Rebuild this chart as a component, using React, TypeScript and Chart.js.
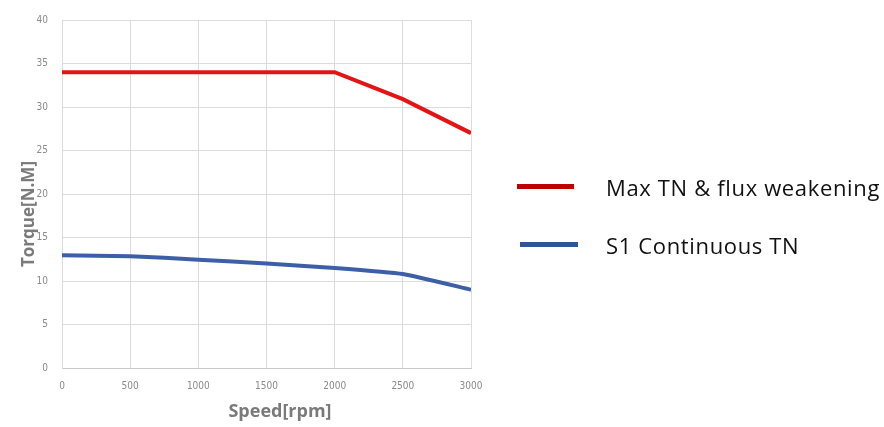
import React, { useEffect, useRef } from "react";
import { Chart, registerables } from "chart.js";

Chart.register(...registerables);

const speeds = [0, 500, 1000, 1500, 2000, 2500, 3000];
const maxTorque = [34, 34, 34, 34, 34, 30.9, 27.0];
const contTorque = [12.95, 12.85, 12.45, 12.0, 11.5, 10.8, 9.0];
const seriesNames = ["Max TN & flux weakening", "S1 Continuous TN"];
const xTitle = "Speed[rpm]";
const yTitle = "Torque[N.M]";
const lineColors = ["#e31414", "#3d5fa8"];
const legendColors = ["#c00000", "#2f5597"];

const tickFont = { family: "'Liberation Sans Narrow', 'DejaVu Sans Condensed', sans-serif", size: 10 };

export default function App() {
  const ref = useRef<HTMLCanvasElement | null>(null);
  useEffect(() => {
    if (!ref.current) return;
    const chart = new Chart(ref.current, {
      type: "line",
      data: {
        datasets: [
          {
            label: seriesNames[0],
            data: speeds.map((s, i) => ({ x: s, y: maxTorque[i] })),
            borderColor: lineColors[0],
            borderWidth: 4,
            pointRadius: 0,
            tension: 0,
          },
          {
            label: seriesNames[1],
            data: speeds.map((s, i) => ({ x: s, y: contTorque[i] })),
            borderColor: lineColors[1],
            borderWidth: 4,
            pointRadius: 0,
            tension: 0.15,
          },
        ],
      },
      options: {
        animation: false,
        responsive: false,
        layout: { padding: { top: 9, right: 413, left: 18, bottom: 23 } },
        plugins: { legend: { display: false }, tooltip: { enabled: false } },
        scales: {
          x: {
            type: "linear",
            min: 0,
            max: 3000,
            ticks: { stepSize: 500, padding: 12, color: "#8a8a8a", font: tickFont, callback: (v: any) => String(v) },
            grid: { color: "#dcdcdc", drawTicks: false },
            border: { color: "#c8c8c8" },
          },
          y: {
            min: 0,
            max: 40,
            afterFit: (scale: any) => {
              scale.width = 44;
            },
            ticks: { stepSize: 5, padding: 14, color: "#8a8a8a", font: tickFont, callback: (v: any) => String(v) },
            grid: { color: "#dcdcdc", drawTicks: false },
            border: { color: "#dcdcdc" },
          },
        },
      },
    });
    return () => chart.destroy();
  }, []);

  const legendRows = [
    { lineLeft: 517, lineWidth: 57, y: 187 },
    { lineLeft: 520, lineWidth: 58, y: 245 },
  ];

  const titleStyle: React.CSSProperties = {
    position: "absolute",
    fontFamily: "'Open Sans', sans-serif",
    fontWeight: "bold",
    fontSize: 17,
    color: "#7a7a7a",
    whiteSpace: "nowrap",
    lineHeight: "20px",
  };

  return (
    <div style={{ position: "fixed", left: 0, top: 0, width: 884, height: 427, background: "#fff" }}>
      <canvas ref={ref} width={884} height={427} style={{ position: "absolute", left: 0, top: 0 }} />
      <div style={{ ...titleStyle, left: 28, top: 214, transform: "translate(-50%, -50%) rotate(-90deg)" }}>{yTitle}</div>
      <div style={{ ...titleStyle, left: 280, top: 410, fontSize: 18, transform: "translate(-50%, -50%)" }}>{xTitle}</div>
      {seriesNames.map((name, i) => (
        <React.Fragment key={name}>
          <div
            style={{
              position: "absolute",
              left: legendRows[i].lineLeft,
              top: legendRows[i].y - 3,
              width: legendRows[i].lineWidth,
              height: 5,
              background: legendColors[i],
            }}
          />
          <div
            style={{
              position: "absolute",
              left: 606,
              top: legendRows[i].y - 15,
              height: 30,
              lineHeight: "30px",
              fontFamily: "'Open Sans', sans-serif",
              fontSize: 22,
              letterSpacing: "0.65px",
              color: "#111",
              whiteSpace: "nowrap",
            }}
          >
            {name}
          </div>
        </React.Fragment>
      ))}
    </div>
  );
}
